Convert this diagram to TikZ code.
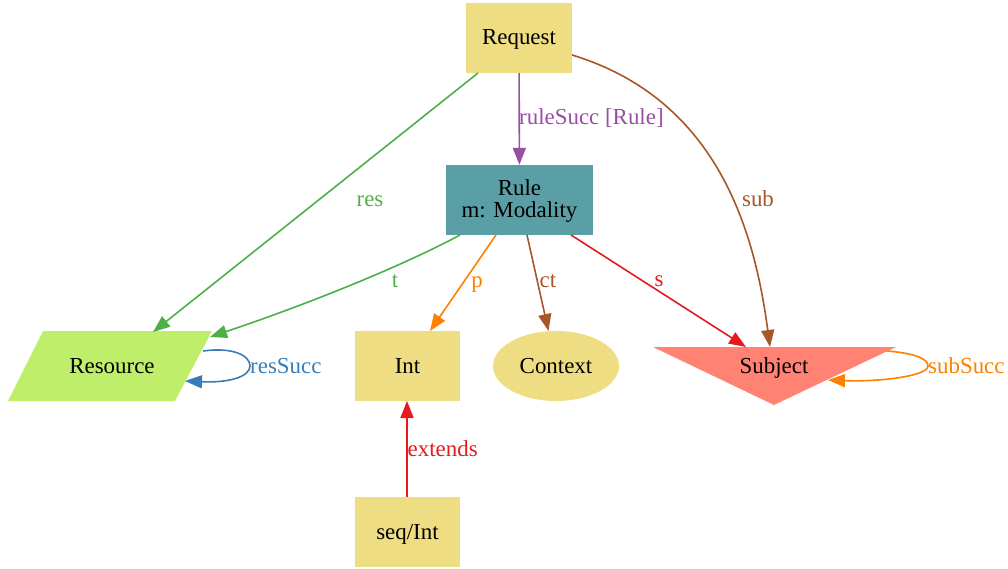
\documentclass[tikz,border=0pt]{standalone}
\usepackage{fontspec}
\setmainfont{Liberation Serif}
\usetikzlibrary{arrows.meta,shapes.geometric}
\definecolor{cgold}{HTML}{EEDD82}
\definecolor{cteal}{HTML}{5A9EA6}
\definecolor{cgreenfill}{HTML}{BFEE6A}
\definecolor{csalmon}{HTML}{FF8273}
\definecolor{cpurple}{HTML}{984EA3}
\definecolor{cgreen}{HTML}{4DAF4A}
\definecolor{cbrown}{HTML}{A65628}
\definecolor{corange}{HTML}{FF7F00}
\definecolor{cred}{HTML}{E41A1C}
\definecolor{cblue}{HTML}{377EB8}
\tikzset{
  gvfont/.style={font=\fontsize{23}{22}\selectfont, text height=17bp, text depth=3bp},
  box/.style={rectangle, draw=none, inner sep=0pt, minimum width=106bp, minimum height=70bp, gvfont},
  txt/.style={inner sep=0pt, gvfont},
  lbl/.style={inner sep=0pt, gvfont},
  edge/.style={line width=1.6bp, -{Triangle[length=17bp,width=13bp]}},
}
\begin{document}
\begin{tikzpicture}[x=1bp,y=-1bp]
\useasboundingbox (0,0) rectangle (1008,569);
% nodes
\node[box, fill=cgold] (req) at (519,38) {Request};
\node[box, fill=cteal, minimum width=147bp] (rule) at (519.5,200) {};
\node[txt] (ruleT1) at (519.5,188.7) {Rule};
\node[txt] (ruleT2) at (519.5,210.7) {m: Modality};
\fill[cgreenfill] (43,331) -- (212,331) -- (175,401) -- (8,401) -- cycle;
\node[txt] (res) at (112,366) {Resource};
\node[box, fill=cgold, minimum width=105bp] (int) at (407.5,366) {Int};
\node[ellipse, fill=cgold, draw=none, inner sep=0pt, minimum width=126bp, minimum height=70bp, gvfont] (ctx) at (556,366) {Context};
\fill[csalmon] (653,347) -- (896,347) -- (774,405) -- cycle;
\node[txt] (sub) at (774,366) {Subject};
\node[box, fill=cgold, minimum width=105bp] (seq) at (407.5,532) {seq/Int};
% endpoint coordinates
\coordinate (reqA) at (478,73);
\coordinate (reqB) at (572,55);
\coordinate (resT1) at (153,332);
\coordinate (subT1) at (770,347);
\coordinate (ruleA) at (460,235);
\coordinate (ruleB) at (496,235);
\coordinate (ruleC) at (527,235);
\coordinate (ruleD) at (571,235);
\coordinate (resT2) at (210,337);
\coordinate (intT) at (430,331);
\coordinate (ctxT) at (548.5,331);
\coordinate (subT2) at (746,347);
\coordinate (resL1) at (203,351);
\coordinate (resL2) at (250,366);
\coordinate (resL3) at (185,381);
\coordinate (subL1) at (887,351);
\coordinate (subL2) at (928,366);
\coordinate (subL3) at (828,380);
\coordinate (seqTop) at (407,497);
\coordinate (intBot) at (407,401);
% edges
\draw[edge, cpurple] (req) -- (rule);
\node[lbl, anchor=west, text=cpurple] (lrule) at (519,118) {ruleSucc [Rule]};
\draw[edge, cgreen] (reqA) -- (resT1);
\node[lbl, text=cgreen] (lres) at (370,200) {res};
\draw[edge, cbrown] (reqB) .. controls (720,100) and (755,235) .. (subT1);
\node[lbl, text=cbrown] (lsub) at (758,200) {sub};
\draw[edge, cgreen] (ruleA) .. controls (410,262) and (320,300) .. (resT2);
\node[lbl, text=cgreen] (lt) at (395,281) {t};
\draw[edge, corange] (ruleB) -- (intT);
\node[lbl, text=corange] (lp) at (477,281) {p};
\draw[edge, cbrown] (ruleC) -- (ctxT);
\node[lbl, text=cbrown] (lct) at (548,281) {ct};
\draw[edge, cred] (ruleD) -- (subT2);
\node[lbl, text=cred] (ls) at (659,280) {s};
\draw[edge, cblue] (resL1) .. controls (232,347) and (250,355) .. (resL2) .. controls (250,377) and (228,383) .. (resL3);
\node[lbl, anchor=west, text=cblue] (lresSucc) at (250,366) {resSucc};
\draw[edge, corange] (subL1) .. controls (912,353) and (928,358) .. (subL2) .. controls (928,376) and (880,382) .. (subL3);
\node[lbl, anchor=west, text=corange] (lsubSucc) at (928,366) {subSucc};
\draw[edge, cred] (seqTop) -- (intBot);
\node[lbl, anchor=west, text=cred] (lext) at (407.5,449) {extends};
\end{tikzpicture}
\end{document}
